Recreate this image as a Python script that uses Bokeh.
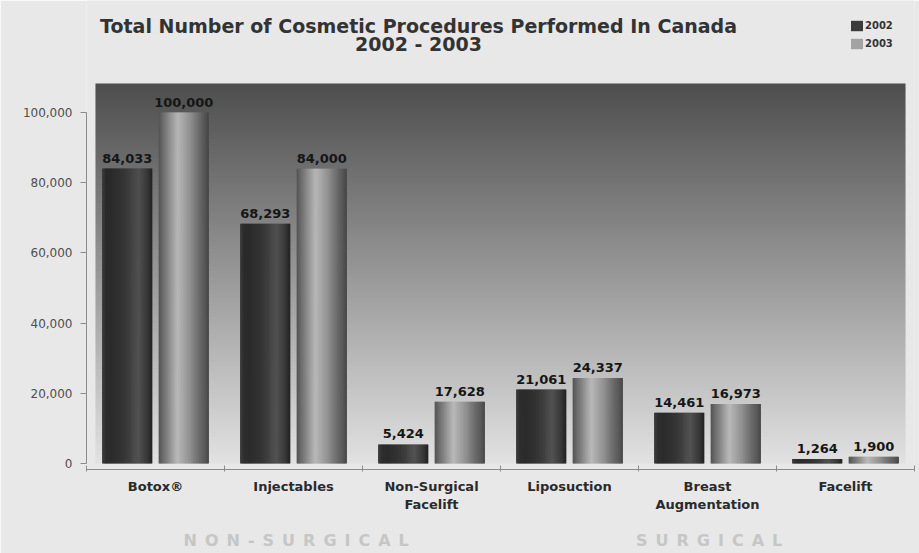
import numpy as np
from bokeh.plotting import figure
from bokeh.models import (Range1d, FixedTicker, NumeralTickFormatter, Label,
                          Legend, LegendItem, ColumnDataSource)
from bokeh.core.properties import value
from bokeh.embed import file_html
from bokeh.resources import INLINE

# ---------------- data ----------------
categories = ["Botox®", "Injectables", "Non-Surgical\nFacelift", "Liposuction",
              "Breast\nAugmentation", "Facelift"]
series_names = ["2002", "2003"]
values_2002 = [84033, 68293, 5424, 21061, 14461, 1264]
values_2003 = [100000, 84000, 17628, 24337, 16973, 1900]
y_ticks = [0, 20000, 40000, 60000, 80000, 100000]
group_labels = ["NON-SURGICAL", "SURGICAL"]
title_lines = ["Total Number of Cosmetic Procedures Performed In Canada", "2002 - 2003"]

# ---------------- styling ----------------
FONT = "DejaVu Sans"
PAGE_BG = "#e8e8e8"
profiles = [
    ([0.0, 0.08, 0.45, 0.75, 0.92, 1.0], [0x3c, 0x26, 0x36, 0x4e, 0x36, 0x22]),
    ([0.0, 0.08, 0.38, 0.62, 0.9, 1.0], [0x52, 0x6a, 0xb8, 0x92, 0x5a, 0x46]),
]
offsets = [-0.205, 0.205]
bar_w = 0.36
n_strips = 48
plot_top = 108262          # top of the shaded plot area (value units)

p = figure(width=919, height=553,
           x_range=Range1d(0, len(categories)), y_range=Range1d(-1709, 131909),
           output_backend="svg", toolbar_location=None,
           min_border_left=86, min_border_right=5, min_border_top=0, min_border_bottom=84,
           background_fill_color=PAGE_BG, border_fill_color=PAGE_BG,
           outline_line_color=None)
p.grid.visible = False

# background gradient of plot area
rows = 256
t = np.linspace(0, 1, rows)
g = (0xe2 + (0x4e - 0xe2) * t).astype(np.uint8)
img = np.zeros((rows, 1), dtype=np.uint32)
view = img.view(dtype=np.uint8).reshape((rows, 1, 4))
view[:, 0, 0] = g
view[:, 0, 1] = g
view[:, 0, 2] = g
view[:, 0, 3] = 255
p.image_rgba(image=[img], x=0.065, y=0, dw=5.87, dh=plot_top)

# bars drawn as shaded strips
bar_renderers = []
for si, vals in enumerate([values_2002, values_2003]):
    pos, shades = profiles[si]
    xs, tops, cols = [], [], []
    for i, v in enumerate(vals):
        for k in range(n_strips):
            tt = (k + 0.5) / n_strips
            xs.append(i + 0.5 + offsets[si] - bar_w / 2 + tt * bar_w)
            tops.append(v)
            s = int(round(np.interp(tt, pos, shades)))
            cols.append("#%02x%02x%02x" % (s, s, s))
    src = ColumnDataSource(dict(x=xs, top=tops, color=cols))
    r = p.vbar(x="x", top="top", bottom=0, width=bar_w / n_strips * 1.6,
               fill_color="color", line_color=None, source=src)
    bar_renderers.append(r)

    lab_src = ColumnDataSource(dict(
        x=[i + 0.5 + offsets[si] for i in range(len(vals))],
        y=vals,
        t=["{:,}".format(v) for v in vals]))
    p.text(x="x", y="y", text="t", source=lab_src, text_align="center",
           text_baseline="bottom", y_offset=-6, text_font=value(FONT),
           text_font_style="bold", text_font_size="13px", text_color="#161616")

# legend (glyph colour taken from the middle strip of each series)
legend = Legend(items=[LegendItem(label=n, renderers=[r], index=n_strips // 2)
                       for n, r in zip(series_names, bar_renderers)],
                location=(763, 419), orientation="vertical",
                label_text_font=FONT, label_text_font_size="10px",
                label_text_font_style="bold", label_text_color="#333333",
                glyph_width=15, glyph_height=13, label_height=13, label_standoff=1,
                spacing=5, padding=0, margin=0, border_line_color=None,
                background_fill_alpha=0)
p.add_layout(legend)

# y axis
ya = p.yaxis[0]
ya.ticker = FixedTicker(ticks=y_ticks)
ya.formatter = NumeralTickFormatter(format="0,0")
ya.bounds = (0, 100000)
ya.axis_line_color = "#8c8c8c"
ya.major_tick_line_color = "#8c8c8c"
ya.major_tick_out = 6
ya.major_tick_in = 0
ya.minor_tick_line_color = None
ya.major_label_standoff = 8
ya.major_label_text_font = FONT
ya.major_label_text_font_size = "12px"
ya.major_label_text_color = "#4e4e4e"

# x axis
xa = p.xaxis[0]
centers = [i + 0.5 for i in range(len(categories))]
xa.ticker = FixedTicker(ticks=centers, minor_ticks=list(range(len(categories) + 1)))
xa.major_label_overrides = {c: lab for c, lab in zip(centers, categories)}
xa.axis_line_color = "#8c8c8c"
xa.major_tick_line_color = None
xa.major_tick_out = 0
xa.major_tick_in = 0
xa.minor_tick_line_color = "#8c8c8c"
xa.minor_tick_in = 4
xa.minor_tick_out = 2
xa.major_label_standoff = 7
xa.major_label_text_font = FONT
xa.major_label_text_font_size = "13px"
xa.major_label_text_font_style = "bold"
xa.major_label_text_color = "#2a2a2a"

# group labels as the x axis label (letter-spaced with en spaces)
EN = "\u2002"
TH = "\u2009"
spaced = [EN.join(list(g_)) for g_ in group_labels]
xa.axis_label = spaced[0] + EN * 28 + TH + spaced[1] + EN * 4 + TH
xa.axis_label_standoff = 16
xa.axis_label_text_font = FONT
xa.axis_label_text_font_size = "16px"
xa.axis_label_text_font_style = "bold"
xa.axis_label_text_color = "#c6c6c6"

# title lines
for txt, yy in zip(title_lines, [444, 426]):
    p.add_layout(Label(x=332, y=yy, x_units="screen", y_units="screen", text=txt,
                       text_align="center", text_baseline="middle", text_font=FONT,
                       text_font_style="bold", text_font_size="19px",
                       text_color="#333333"))

open("out.html", "w").write(file_html(p, INLINE))
